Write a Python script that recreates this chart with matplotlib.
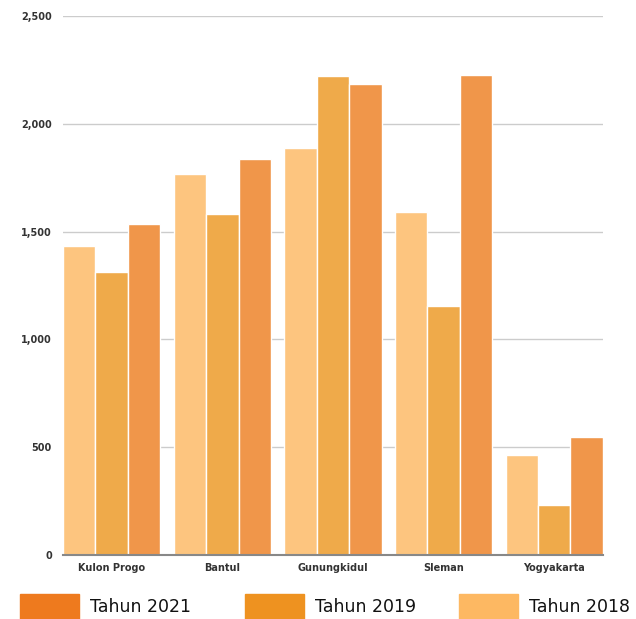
import numpy as np
import matplotlib.pyplot as plt
from matplotlib.patches import Rectangle

regions = ['Kulon Progo', 'Bantul', 'Gunungkidul', 'Sleman', 'Yogyakarta']
val_2018 = [1435, 1767, 1888, 1591, 464]
val_2019 = [1313, 1582, 2222, 1155, 232]
val_2021 = [1537, 1837, 2185, 2226, 547]
yticks = [0, 500, 1000, 1500, 2000, 2500]

bar_cols = ['#FDC57F', '#EFAA4A', '#F0964A']
leg_cols = ['#EE7A1E', '#EE9220', '#FDB862']
leg_labels = ['Tahun 2021', 'Tahun 2019', 'Tahun 2018']

fig = plt.figure(figsize=(6.36, 6.19), dpi=100)
ax = fig.add_axes([0.099, 0.1034, 0.849, 0.8706])

x = np.arange(len(regions))
w = 0.293
for i, vals in enumerate([val_2018, val_2019, val_2021]):
    ax.bar(x + (i - 1) * w, vals, width=w, color=bar_cols[i],
           edgecolor='white', linewidth=1, zorder=3)

ax.set_xlim(-0.44, len(regions) - 1 + 0.44)
ax.set_ylim(0, 2500)
ax.set_yticks(yticks)
ax.set_yticklabels([f'{v:,}' for v in yticks])
ax.set_xticks(x)
ax.set_xticklabels(regions)
ax.tick_params(axis='both', length=0, labelsize=7, colors='#333333')
ax.tick_params(axis='y', pad=8)
ax.tick_params(axis='x', pad=6)
for lab in ax.get_xticklabels() + ax.get_yticklabels():
    lab.set_fontweight('bold')
ax.grid(axis='y', color='#cccccc', linewidth=1, zorder=0)
for s in ['top', 'right', 'left']:
    ax.spines[s].set_visible(False)
ax.spines['bottom'].set_color('#888888')
ax.spines['bottom'].set_linewidth(1.5)
ax.spines['bottom'].set_zorder(4)

# legend drawn along the bottom
patch_x = [20, 245, 459]
for px, col, lab in zip(patch_x, leg_cols, leg_labels):
    fig.add_artist(Rectangle((px / 636, 0), 59 / 636, 25 / 619,
                             transform=fig.transFigure, color=col))
    fig.text((px + 70) / 636, 12 / 619, lab, fontsize=12.5, va='center',
             ha='left', color='#111111')

fig.savefig('out.png', dpi=100)
